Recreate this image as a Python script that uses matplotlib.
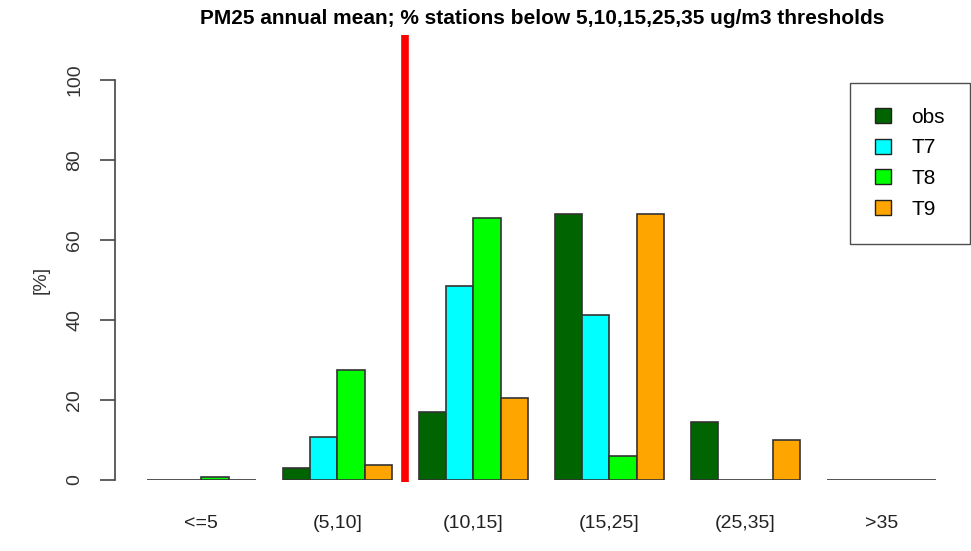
import matplotlib
matplotlib.use("Agg")
import matplotlib.pyplot as plt
from matplotlib.patches import Patch
import numpy as np

plt.rcParams['font.family'] = ['Liberation Sans', 'DejaVu Sans']

# data
categories = ['<=5', '(5,10]', '(10,15]', '(15,25]', '(25,35]', '>35']
series = ['obs', 'T7', 'T8', 'T9']
obs = [0, 3, 17, 66.5, 14.5, 0]
t7 = [0, 10.8, 48.5, 41.3, 0, 0]
t8 = [0.8, 27.5, 65.5, 6, 0, 0]
t9 = [0, 3.7, 20.5, 66.5, 10, 0]
colors = ['#006400', '#00FFFF', '#00FF00', '#FFA500']

fig = plt.figure(figsize=(9.71, 5.51), dpi=100)
ax = fig.add_axes([115 / 971, 71 / 551, 855 / 971, 400 / 551])

# R-style barplot, beside=TRUE: 4 bars per group, one bar gap between groups
values = [obs, t7, t8, t9]
group_start = np.arange(len(categories)) * 5 + 1
for j, (vals, col) in enumerate(zip(values, colors)):
    ax.bar(group_start + j, vals, width=1, align='edge', color=col,
           edgecolor='#333333', linewidth=1.2)

ax.set_xlim(-0.176, -0.176 + 855 / 27.2)
ax.set_ylim(0, 100)

for s in ['top', 'right', 'bottom']:
    ax.spines[s].set_visible(False)
ax.spines['left'].set_bounds(0, 100)
ax.spines['left'].set_color('#444444')
ax.spines['left'].set_linewidth(1.2)
ax.set_yticks([0, 20, 40, 60, 80, 100])
ax.tick_params(axis='y', length=11, width=1.2, pad=12, labelsize=14,
               colors='#444444', labelcolor='#333333')
for lbl in ax.get_yticklabels():
    lbl.set_rotation(90)
    lbl.set_va('center')

ax.set_xticks(group_start + 2)
ax.set_xticklabels(categories)
ax.tick_params(axis='x', length=0, pad=25, labelsize=14, labelcolor='#222222')

ax.set_ylabel('[%]', fontsize=14, color='#333333', labelpad=12)

ax.set_title('PM25 annual mean; % stations below 5,10,15,25,35 ug/m3 thresholds',
             fontsize=15, fontweight='bold', pad=40)

# red separator line
ax.plot([10.5, 10.5], [-0.5, 111.2], color='#FF0000', linewidth=5.5,
        clip_on=False, solid_capstyle='butt', zorder=5)

handles = [Patch(facecolor=c, edgecolor='#222222', label=s) for s, c in zip(series, colors)]
leg = ax.legend(handles=handles, loc='upper right', bbox_to_anchor=(1.0, 0.993),
                borderaxespad=0, fontsize=15, frameon=True, fancybox=False,
                edgecolor='#222222', handlelength=0.75, handleheight=0.75,
                labelspacing=0.56, borderpad=1.2, handletextpad=1.0)
leg.get_frame().set_linewidth(1.0)

fig.savefig('out.png', dpi=100)
